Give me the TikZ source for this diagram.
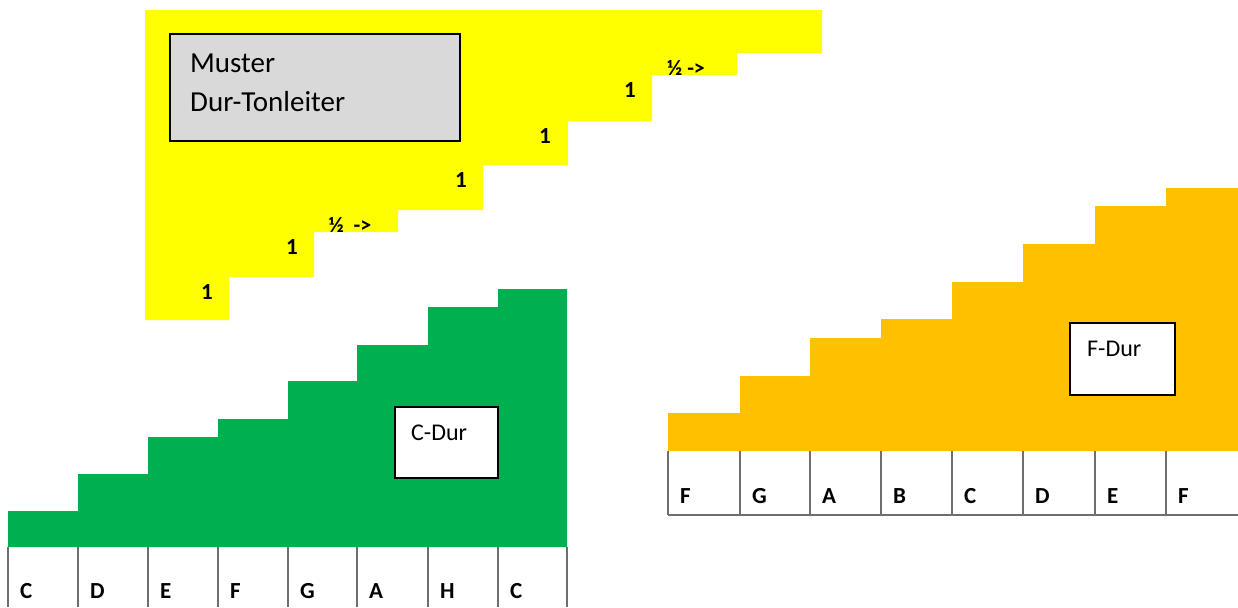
\documentclass[tikz,border=0pt]{standalone}
\usepackage{fontspec}
\setmainfont{Carlito}
\definecolor{stepyellow}{HTML}{FFFF00}
\definecolor{stepgreen}{HTML}{00B050}
\definecolor{steporange}{HTML}{FFC000}
\definecolor{boxgray}{HTML}{D9D9D9}
\definecolor{keygray}{HTML}{6E6E6E}
\tikzset{
  keyline/.style={draw=keygray, line width=1.3pt},
  keylabel/.style={anchor=base west, inner sep=0pt, font=\fontsize{23}{27}\selectfont\bfseries},
  steplabel/.style={anchor=center, inner sep=0pt, font=\fontsize{23}{27}\selectfont\bfseries},
  halflabel/.style={anchor=center, inner sep=0pt, font=\fontsize{22}{26}\selectfont\bfseries},
  titlebox/.style={draw=black, line width=1.6pt, inner sep=0pt},
  plaintext/.style={anchor=base west, inner sep=0pt},
}
\begin{document}
\begin{tikzpicture}[x=1pt,y=-1pt]
\useasboundingbox (0,0) rectangle (1238,607);
\fill[white] (0,0) rectangle (1238,607);

% pattern staircase (whole and half steps)
\fill[stepyellow] (145,10) -- (822,10) -- (822,53) -- (737,53) -- (737,75) -- (652,75)
  -- (652,121) -- (568,121) -- (568,165) -- (483,165) -- (483,210) -- (398,210)
  -- (398,232) -- (314,232) -- (314,277) -- (229,277) -- (229,320) -- (145,320) -- cycle;

\node[titlebox, fill=boxgray, minimum width=290pt, minimum height=107pt] (muster) at (315,87.5) {};
\node[plaintext, font=\fontsize{29}{34}\selectfont] (muster1) at (190,73) {Muster};
\node[plaintext, font=\fontsize{29}{34}\selectfont] (muster2) at (190,112) {Dur-Tonleiter};

\node[steplabel] (s1) at (207,292) {1};
\node[steplabel] (s2) at (292,247) {1};
\node[halflabel] (s3) at (350,225) {½\ \ ->};
\node[steplabel] (s4) at (461,180) {1};
\node[steplabel] (s5) at (545,136) {1};
\node[steplabel] (s6) at (630,90) {1};
\node[halflabel] (s7) at (686,68) {½ ->};

% C major staircase
\fill[stepgreen] (8,547) -- (8,511) -- (78,511) -- (78,474) -- (148,474) -- (148,437)
  -- (218,437) -- (218,419) -- (288,419) -- (288,381) -- (357,381) -- (357,345)
  -- (428,345) -- (428,307) -- (498,307) -- (498,289) -- (567,289) -- (567,547) -- cycle;
\node[titlebox, fill=white, minimum width=103pt, minimum height=71pt] (cdur) at (446.5,442.5) {};
\node[plaintext, font=\fontsize{24}{28}\selectfont] (cdurtext) at (411,440) {C-Dur};

\foreach \x in {8,78,148,218,288,357,428,498,567}
  \draw[keyline] (\x,547) -- (\x,607);
\foreach \x/\n [count=\i] in {8/C,78/D,148/E,218/F,288/G,357/A,428/H,498/C}
  \node[keylabel] (gk\i) at (\x+12,598) {\n};

% F major staircase
\fill[steporange] (668,451) -- (668,413) -- (740,413) -- (740,376) -- (810,376) -- (810,338)
  -- (881,338) -- (881,319) -- (952,319) -- (952,282) -- (1023,282) -- (1023,244)
  -- (1095,244) -- (1095,206) -- (1166,206) -- (1166,188) -- (1238,188) -- (1238,451) -- cycle;
\node[titlebox, fill=white, minimum width=105pt, minimum height=72pt] (fdur) at (1122.5,359) {};
\node[plaintext, font=\fontsize{24}{28}\selectfont] (fdurtext) at (1087,356) {F-Dur};

\foreach \x in {668,740,810,881,952,1023,1095,1166}
  \draw[keyline] (\x,451) -- (\x,515);
\draw[keyline] (668,515) -- (1238,515);
\foreach \x/\n [count=\i] in {668/F,740/G,810/A,881/B,952/C,1023/D,1095/E,1166/F}
  \node[keylabel] (ok\i) at (\x+12,503) {\n};
\end{tikzpicture}
\end{document}
